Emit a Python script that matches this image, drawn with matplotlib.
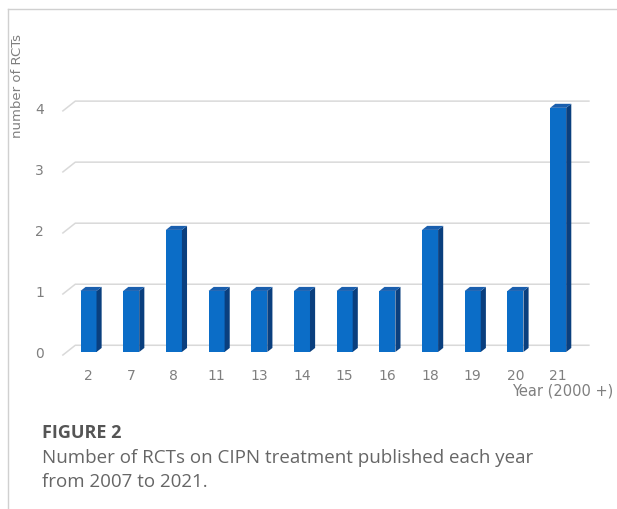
import matplotlib.pyplot as plt
from matplotlib.patches import Polygon
from matplotlib.lines import Line2D
import numpy as np

# data
years = ["2", "7", "8", "11", "13", "14", "15", "16", "18", "19", "20", "21"]
counts = [1, 1, 2, 1, 1, 1, 1, 1, 2, 1, 1, 4]
yticks = [0, 1, 2, 3, 4]

front = "#0b6dc7"
side = "#0a3f7e"
top = "#1a5fae"
grid = "#d9d9d9"
txt = "#7f7f7f"

fig = plt.figure(figsize=(6.17, 5.10), dpi=100)
# axes placed in pixels: left 55, right 600, top 60, bottom 365
W, H = 617, 510
ax = fig.add_axes([55 / W, (H - 365) / H, 545 / W, 305 / H])
ax.set_xlim(-0.785, 11.98)
ax.set_ylim(-0.197, 4.80)

x = np.arange(len(years))
w = 0.375
dx, dy = 0.12, 0.066      # bar depth
x0, x1 = -0.60, 11.72     # gridline extent
dxb, dyb = 0.29, 0.16     # back wall offset

# gridlines on the back wall with a diagonal at the left
for v in yticks:
    ax.plot([x0, x0 + dxb, x1], [v - 0.05, v - 0.05 + dyb, v - 0.05 + dyb],
            color=grid, lw=1.1, zorder=1)

ax.bar(x, counts, width=w, color=front, zorder=3)
for xi, v in zip(x, counts):
    r = xi + w / 2
    l = xi - w / 2
    ax.add_patch(Polygon([(r, 0), (r + dx, dy), (r + dx, v + dy), (r, v)],
                         closed=True, color=side, lw=0, zorder=3))
    ax.add_patch(Polygon([(l, v), (l + dx, v + dy), (r + dx, v + dy), (r, v)],
                         closed=True, color=top, lw=0, zorder=3))

ax.set_xticks(x)
ax.set_xticklabels(years)
ax.set_yticks(yticks)
ax.tick_params(length=0, labelsize=10, labelcolor=txt)
ax.tick_params(axis="x", pad=3)
ax.tick_params(axis="y", pad=8)
for s in ax.spines.values():
    s.set_visible(False)

fig.text(18 / W, 1 - 86 / H, "number of RCTs", rotation=90, ha="center",
         va="center", fontsize=9.5, color=txt)

fig.text(613 / W, 1 - 391 / H, "Year (2000 +)", ha="right", va="center",
         fontsize=10.5, color=txt)

# frame
fig.add_artist(Line2D([8 / W, 1], [1 - 10 / H, 1 - 10 / H], color="#d0d0d0", lw=1))
fig.add_artist(Line2D([8 / W, 8 / W], [0, 1 - 10 / H], color="#d0d0d0", lw=1))

# caption
fig.text(42 / W, 1 - 433 / H, "FIGURE 2", fontsize=13, fontweight="bold",
         color="#555555", family="Open Sans", va="center")
fig.text(42 / W, 1 - 458 / H, "Number of RCTs on CIPN treatment published each year",
         fontsize=13.5, color="#666666", family="Open Sans", va="center")
fig.text(42 / W, 1 - 482 / H, "from 2007 to 2021.",
         fontsize=13.5, color="#666666", family="Open Sans", va="center")

fig.savefig("out.png", dpi=100)
